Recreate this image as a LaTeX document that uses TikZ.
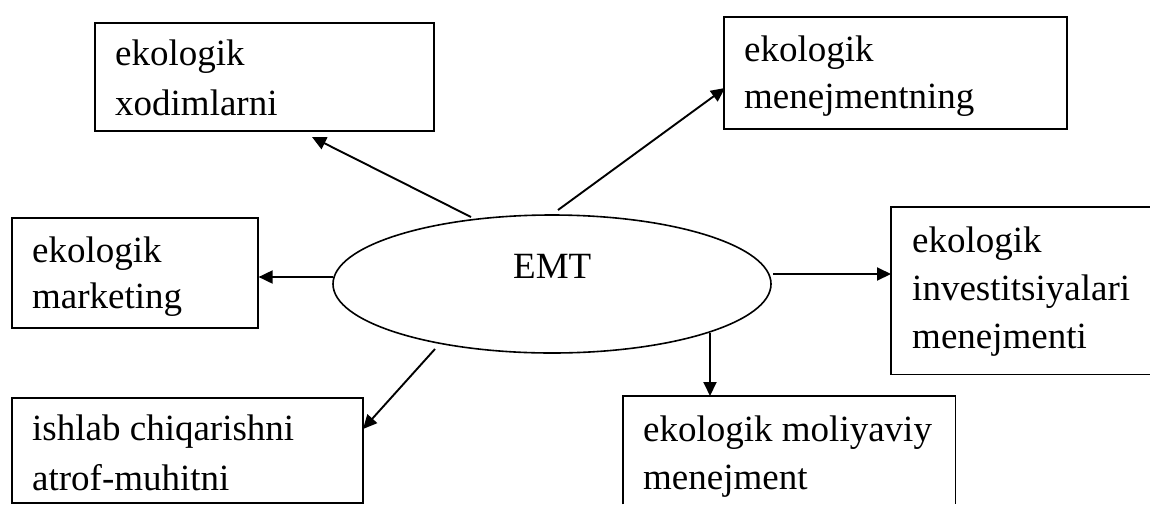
\documentclass[tikz,border=0pt]{standalone}
\usepackage{fontspec}
\setmainfont{Liberation Serif}
\usetikzlibrary{arrows.meta,shapes.geometric}
\begin{document}
\begin{tikzpicture}[x=1pt,y=-1pt,
  box/.style={draw, line width=1.6pt, rectangle, anchor=north west, inner sep=0pt},
  openbox/.style={rectangle, anchor=north west, inner sep=0pt},
  edge/.style={line width=1.6pt},
  lbl/.style={anchor=base west, inner sep=0pt, font=\fontsize{37pt}{44pt}\selectfont},
  arr/.style={line width=1.9pt, -{Triangle[length=14pt,width=13pt]}}]
\useasboundingbox (0,0) rectangle (1150,504);

% central ellipse
\node[ellipse, draw, line width=1.6pt, minimum width=438pt, minimum height=138pt, inner sep=0pt] (emt) at (552,284) {};
\node[lbl] (emtt) at (513,278) {EMT};

% surrounding boxes
\node[box, minimum width=339pt, minimum height=108pt] (b1) at (94,22) {};
\node[lbl] (b1a) at (115,65) {ekologik};
\node[lbl] (b1b) at (115,115) {xodimlarni};

\node[box, minimum width=343pt, minimum height=112pt] (b2) at (723,16) {};
\node[lbl] (b2a) at (744,61) {ekologik};
\node[lbl] (b2b) at (744,108) {menejmentning};

\node[box, minimum width=246pt, minimum height=110pt] (b3) at (11,217) {};
\node[lbl] (b3a) at (32,262) {ekologik};
\node[lbl] (b3b) at (32,308) {marketing};

% this box runs past the right margin: only three sides are drawn
\node[openbox, minimum width=259pt, minimum height=167pt] (b4) at (891,207) {};
\draw[edge] (b4.north east) -- (b4.north west) -- (b4.south west) -- (b4.south east);
\node[lbl] (b4a) at (912,252) {ekologik};
\node[lbl] (b4b) at (912,300) {investitsiyalari};
\node[lbl] (b4c) at (912,348) {menejmenti};

% this box runs past the bottom margin: its lower side is not drawn
\node[openbox, minimum width=332pt, minimum height=108pt] (b5) at (623,396) {};
\draw[edge] (b5.south west) -- (b5.north west) -- (b5.north east) -- (b5.south east);
\node[lbl] (b5a) at (643,441) {ekologik moliyaviy};
\node[lbl] (b5b) at (643,489) {menejment};

\node[box, minimum width=351pt, minimum height=105pt] (b6) at (11,397) {};
\node[lbl] (b6a) at (32,440) {ishlab chiqarishni};
\node[lbl] (b6b) at (32,490) {atrof-muhitni};

% connector end points
\coordinate (s1) at (471,217);
\coordinate (t1) at (312,137);
\coordinate (s2) at (558,210);
\coordinate (t2) at (725,88);
\coordinate (s3) at (333,277);
\coordinate (s4) at (773,274);
\coordinate (s5) at (710,333);
\coordinate (s6) at (435,349);
\coordinate (t6) at (363,429);

% connectors
\draw[arr] (s1) -- (t1);
\draw[arr] (s2) -- (t2);
\draw[arr] (s3) -- (b3.east |- s3);
\draw[arr] (s4) -- (b4.west |- s4);
\draw[arr] (s5) -- (s5 |- b5.north);
\draw[arr] (s6) -- (t6);
\end{tikzpicture}
\end{document}
